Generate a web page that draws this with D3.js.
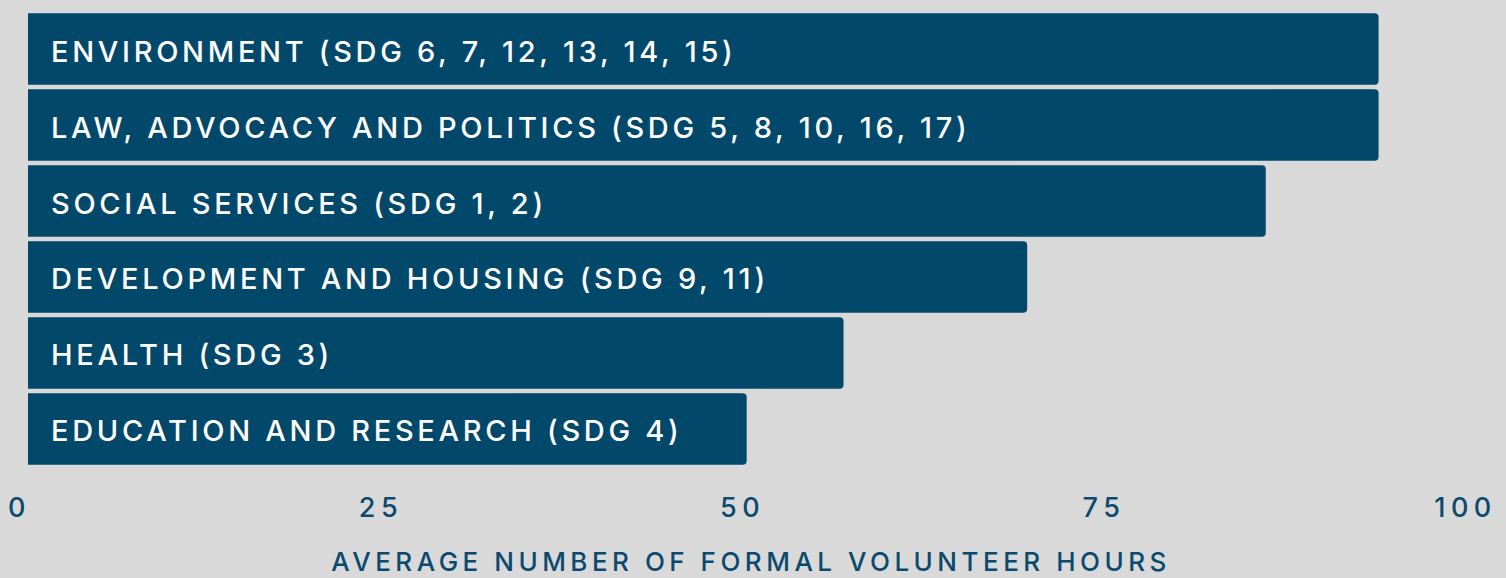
<!DOCTYPE html>
<html>
<head>
<meta charset="utf-8">
<script src="https://cdn.jsdelivr.net/npm/d3@7"></script>
<style>
body { margin: 0; background: #d9d9d9; }
svg { display: block; }
</style>
</head>
<body>
<svg width="1506" height="578"></svg>
<script>
var categories = [
  "ENVIRONMENT (SDG 6, 7, 12, 13, 14, 15)",
  "LAW, ADVOCACY AND POLITICS (SDG 5, 8, 10, 16, 17)",
  "SOCIAL SERVICES (SDG 1, 2)",
  "DEVELOPMENT AND HOUSING (SDG 9, 11)",
  "HEALTH (SDG 3)",
  "EDUCATION AND RESEARCH (SDG 4)"
];
var hours = [93.4, 93.4, 85.6, 69.1, 56.4, 49.7];
var tickValues = [0, 25, 50, 75, 100];
var axisTitle = "AVERAGE NUMBER OF FORMAL VOLUNTEER HOURS";

var svg = d3.select("svg"),
width = 1506,
height = 578,
barColor = "#01486b",
inkColor = "#0a4a6e",
font = "Inter, 'Open Sans', sans-serif";

var data = categories.map(function(c, i) { return {name: c, value: hours[i]}; });

var x = d3.scaleLinear().domain([0, 100]).range([28, 1474]);
var y = d3.scaleBand().domain(categories).range([13.3, 464.7]).paddingInner(0.06);

// bar with only the right corners rounded
function barPath(x0, y0, w, h, r) {
  return "M" + x0 + "," + y0 +
    "H" + (x0 + w - r) +
    "A" + r + "," + r + " 0 0 1 " + (x0 + w) + "," + (y0 + r) +
    "V" + (y0 + h - r) +
    "A" + r + "," + r + " 0 0 1 " + (x0 + w - r) + "," + (y0 + h) +
    "H" + x0 + "Z";
}

svg.append("g").selectAll("path")
  .data(data)
  .enter().append("path")
  .attr("fill", barColor)
  .attr("d", function(d) {
    return barPath(x(0), y(d.name), x(d.value) - x(0), y.bandwidth(), 4);
  });

svg.append("g").selectAll("text")
  .data(data)
  .enter().append("text")
  .attr("x", x(0) + 23)
  .attr("y", function(d) { return y(d.name) + y.bandwidth() / 2 + 12.5; })
  .attr("fill", "#fff")
  .attr("font-family", font)
  .attr("font-size", 29)
  .attr("font-weight", 500)
  .attr("letter-spacing", 3.7)
  .text(function(d) { return d.name; });

// x axis, labels sit a little left of the bar scale in the original
var axis = svg.append("g")
  .attr("transform", "translate(-9,0)")
  .call(d3.axisBottom(x).tickValues(tickValues).tickSize(0).tickFormat(d3.format("d")));

axis.select(".domain").remove();
axis.selectAll("text")
  .attr("y", 517)
  .attr("dy", 0)
  .attr("fill", inkColor)
  .attr("font-family", font)
  .attr("font-size", 27)
  .attr("font-weight", 500)
  .attr("letter-spacing", 5.5);

svg.append("text")
  .attr("x", x(50))
  .attr("y", 571)
  .attr("text-anchor", "middle")
  .attr("fill", inkColor)
  .attr("font-family", font)
  .attr("font-size", 26)
  .attr("font-weight", 500)
  .attr("letter-spacing", 4.5)
  .text(axisTitle);
</script>
</body>
</html>
